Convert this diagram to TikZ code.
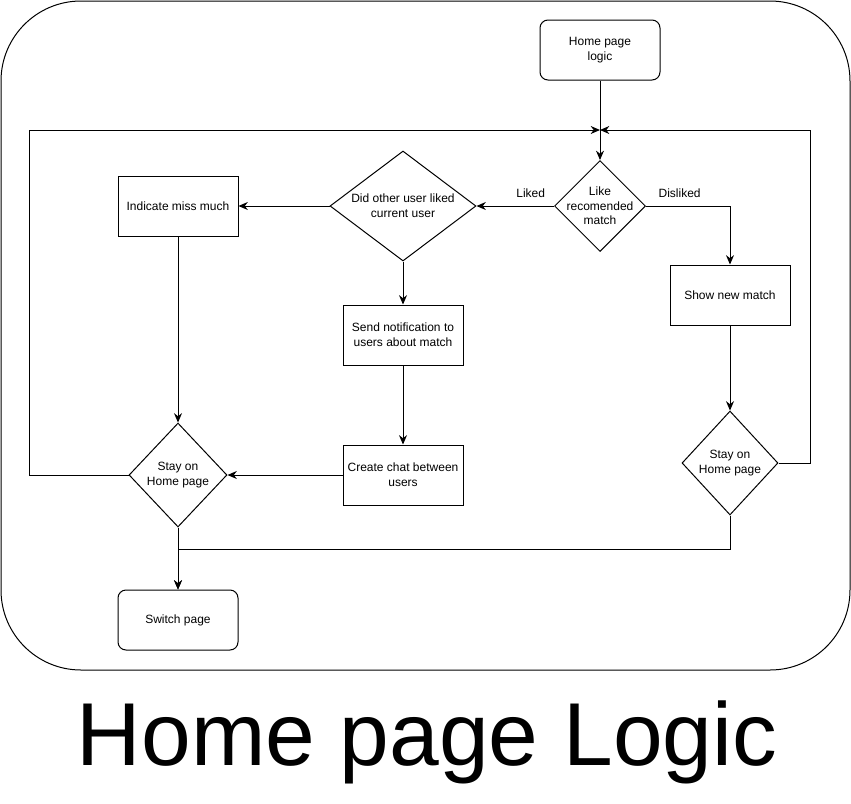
\documentclass[tikz,border=0pt]{standalone}
\usepackage{fontspec}
\setmainfont{Liberation Sans}
\usetikzlibrary{arrows.meta,shapes.geometric}

\begin{document}
\begin{tikzpicture}[
            x=0.75pt, y=-0.75pt,
            line width=0.75pt,
            box/.style={draw, align=center, font=\fontsize{9}{11}\selectfont, inner sep=2pt, minimum width=90pt, minimum height=45pt},
            rbox/.style={box, rounded corners=6pt},
            choice/.style={draw, diamond, align=center, font=\fontsize{9}{11}\selectfont, inner sep=0pt},
            lbl/.style={font=\fontsize{9}{11}\selectfont, inner sep=1pt},
            arrow/.style={-{Stealth[length=7pt, width=6pt]}}
        ]
        \useasboundingbox (0,0) rectangle (851,804);
        \draw[rounded corners=60pt] (1,1) rectangle (850,670);

        \node[rbox] (start) at (600,50) {Home page\\logic};
        \node[choice, inner sep=-2.6pt, minimum width=67.5pt, minimum height=67.5pt] (like) at (600,206) {Like\\recomended\\match};
        \node[choice, aspect=1.33, minimum width=109.5pt, minimum height=82.5pt] (other) at (403,206) {Did other user liked\\current user};
        \node[box] (miss) at (178,206) {Indicate miss much};
        \node[box] (notify) at (403,335) {Send notification to\\users about match};
        \node[box] (chat) at (403,475) {Create chat between\\users};
        \node[choice, aspect=0.94, minimum width=73.5pt, minimum height=78pt] (stayL) at (178,475) {Stay on\\Home page};
        \node[rbox] (switch) at (178,620) {Switch page};
        \node[box] (shownew) at (730,295) {Show new match};
        \node[choice, aspect=0.92, minimum width=72pt, minimum height=78pt] (stayR) at (730,463) {Stay on\\Home page};
        \coordinate (join) at (600,130);

        \node[font=\fontsize{67}{67}\selectfont, inner sep=0pt] (title) at (427,742) {Home page Logic};

        \draw[arrow] (start) -- (like);
        \draw[arrow] (like) -- node[lbl, pos=0.3, above=5pt] {Liked} (other);
        \draw[arrow] (like.east) -| node[lbl, pos=0.2, above=5pt] {Disliked} (shownew);
        \draw[arrow] (other) -- (miss);
        \draw[arrow] (other) -- (notify);
        \draw[arrow] (notify) -- (chat);
        \draw[arrow] (chat) -- (stayL);
        \draw[arrow] (miss) -- (stayL);
        \draw[arrow] (stayL) -- (switch);
        \draw[arrow] (shownew) -- (stayR);
        \draw[arrow] (stayL.west) -- ++(-99,0) |- (join);
        \draw[arrow] (stayR.east) -- ++(32,0) |- (join);
        \draw[arrow] (stayR.south) -- ++(0,34) -| (switch.north);
        \end{tikzpicture}
\end{document}
